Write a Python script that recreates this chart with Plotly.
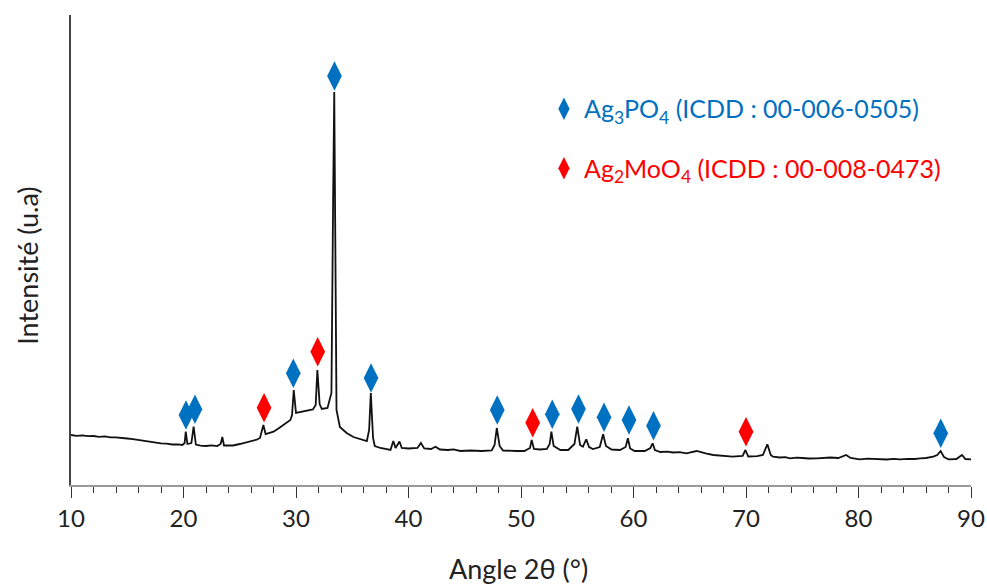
import plotly.graph_objects as go

# XRD pattern (2theta in degrees, intensity in arbitrary units)
two_theta = [10.0, 10.5, 11.0, 11.5, 12.0, 12.5, 13.0, 13.5, 14.0, 14.5, 15.0, 15.5, 16.0, 16.5, 17.0,
             17.5, 18.0, 18.5, 19.0, 19.5, 19.9, 20.1, 20.2, 20.35, 20.7, 20.9, 21.1, 21.5, 22.0, 22.5,
             23.0, 23.3, 23.45, 23.6, 24.0, 24.4, 25.0, 25.5, 26.0, 26.5, 26.8, 27.1, 27.3, 27.6, 28.0,
             28.5, 29.0, 29.5, 29.65, 29.8, 30.0, 30.5, 31.0, 31.5, 31.75, 31.9, 32.1, 32.3, 32.8, 33.0,
             33.15, 33.3, 33.4, 33.5, 33.6, 33.9, 34.5, 35.1, 35.7, 36.3, 36.5, 36.65, 36.85, 37.0, 37.5,
             38.0, 38.4, 38.65, 38.85, 39.2, 39.4, 40.0, 40.8, 41.1, 41.4, 42.0, 42.4, 42.8, 43.5, 44.0,
             44.6, 45.5, 46.5, 47.4, 47.65, 47.85, 48.1, 48.4, 49.0, 49.6, 50.3, 50.8, 50.95, 51.15, 51.7,
             52.3, 52.55, 52.7, 52.9, 53.5, 54.2, 54.75, 55.0, 55.25, 55.5, 55.8, 56.05, 56.4, 57.0, 57.3,
             57.55, 58.05, 58.8, 59.3, 59.5, 59.7, 60.1, 61.0, 61.5, 61.7, 61.9, 62.4, 63.0, 63.5, 64.1,
             64.7, 65.6, 66.0, 66.5, 67.1, 67.5, 68.0, 68.8, 69.7, 69.95, 70.2, 70.6, 71.0, 71.5, 71.9,
             72.2, 72.4, 73.0, 73.5, 73.9, 74.5, 75.0, 75.6, 76.3, 77.0, 77.5, 78.2, 78.9, 79.3, 80.1,
             80.8, 81.5, 82.0, 82.5, 83.1, 83.7, 84.4, 85.0, 85.5, 86.0, 86.65, 87.0, 87.3, 87.6, 88.0,
             88.7, 89.2, 89.5, 90.0]
intensity = [50.0, 49.2, 49.6, 48.8, 49.0, 48.2, 48.6, 47.6, 47.7, 46.8, 46.5, 45.9, 45.0, 44.6, 43.5,
             42.9, 41.7, 41.3, 40.5, 40.6, 40.0, 42.0, 53.3, 41.0, 42.0, 58.3, 40.5, 39.4, 39.0, 39.6,
             38.9, 41.0, 48.0, 39.5, 39.8, 39.5, 41.0, 42.2, 44.0, 45.3, 47.0, 60.0, 51.0, 52.0, 53.3,
             57.0, 61.0, 65.0, 70.0, 95.0, 72.0, 73.0, 74.0, 75.5, 80.0, 115.0, 81.0, 76.0, 77.0, 85.0,
             92.0, 285.0, 393.0, 235.0, 75.0, 58.0, 52.0, 48.0, 46.0, 44.0, 55.0, 92.0, 47.0, 39.0, 37.0,
             36.0, 35.0, 44.0, 37.0, 43.5, 37.0, 36.5, 37.0, 42.0, 36.5, 36.0, 38.3, 35.5, 35.0, 35.6,
             34.0, 34.5, 34.0, 34.5, 40.0, 57.0, 39.0, 34.5, 34.0, 34.0, 34.0, 37.0, 45.0, 36.0, 35.5,
             36.0, 41.0, 53.3, 39.0, 35.0, 35.0, 41.0, 58.3, 40.0, 38.3, 45.7, 38.0, 36.0, 38.0, 50.7,
             39.0, 35.5, 35.0, 38.0, 46.7, 36.5, 34.0, 34.0, 37.0, 41.7, 35.0, 33.0, 33.4, 32.5, 32.8,
             31.7, 34.0, 32.5, 31.4, 30.0, 29.6, 29.0, 28.3, 29.0, 35.0, 28.5, 28.3, 28.8, 30.0, 40.7,
             30.0, 28.3, 27.5, 27.9, 26.7, 27.3, 27.0, 26.5, 26.7, 27.2, 27.5, 27.0, 30.0, 27.0, 25.7,
             26.3, 26.0, 25.6, 25.5, 26.1, 25.7, 26.2, 26.0, 26.6, 27.0, 28.3, 30.0, 34.0, 28.0, 25.7,
             26.0, 30.0, 26.0, 25.7]

# Phase markers (peak position, marker height)
ag3po4_x = [20.22, 21.02, 29.76, 33.42, 36.67, 47.89, 52.78, 55.11, 57.38, 59.60, 61.78, 87.31]
ag3po4_y = [70.0, 75.7, 111.7, 409.0, 107.0, 75.0, 70.7, 76.0, 67.7, 65.0, 59.3, 51.7]
ag2moo4_x = [27.16, 31.93, 51.04, 70.0]
ag2moo4_y = [77.3, 133.3, 62.3, 53.3]

x_ticks = [10, 20, 30, 40, 50, 60, 70, 80, 90]

BLUE = "#0070C0"
RED = "#FF0000"
FONT = "Lato"

fig = go.Figure()
fig.add_trace(go.Scatter(x=two_theta, y=intensity, mode="lines",
                         line=dict(color="#111111", width=1.8), showlegend=False))
fig.add_trace(go.Scatter(x=ag3po4_x, y=ag3po4_y, mode="markers", legendgroup="a",
                         name=f'<span style="color:{BLUE}">Ag<sub>3</sub>PO<sub>4</sub> (ICDD : 00-006-0505)</span>',
                         marker=dict(symbol="diamond-tall", size=21, color=BLUE)))
fig.add_trace(go.Scatter(x=ag2moo4_x, y=ag2moo4_y, mode="markers", legendgroup="b",
                         name=f'<span style="color:{RED}">Ag<sub>2</sub>MoO<sub>4</sub> (ICDD : 00-008-0473)</span>',
                         marker=dict(symbol="diamond-tall", size=21, color=RED)))

fig.update_layout(
    width=987, height=585,
    margin=dict(l=71, r=16, t=15, b=100),
    paper_bgcolor="white", plot_bgcolor="white",
    font=dict(family=FONT, size=24, color="#222222"),
    legend=dict(x=0.5255, y=0.849, xanchor="left", yanchor="top",
                traceorder="grouped", tracegroupgap=24,
                font=dict(family=FONT, size=25), bgcolor="rgba(0,0,0,0)"),
    xaxis=dict(range=[10, 90], tickvals=x_ticks, ticktext=[str(v) for v in x_ticks],
               automargin=False,
               showgrid=False, zeroline=False, showline=True, linecolor="#9a9a9a", linewidth=2,
               ticks="outside", ticklen=11, tickwidth=1.2, tickcolor="#333333",
               tickfont=dict(family=FONT, size=24, color="#222222"),
               minor=dict(dtick=2, tick0=10, ticks="outside", ticklen=6, tickwidth=1.2,
                          tickcolor="#333333", showgrid=False)),
    yaxis=dict(range=[0, 470], automargin=False, showgrid=False, zeroline=False, showline=True,
               linecolor="#444444", linewidth=2, showticklabels=False, ticks=""),
    annotations=[
        dict(text="Angle 2θ (°)", xref="paper", yref="paper", x=0.497, y=-0.177,
             xanchor="center", yanchor="middle", showarrow=False,
             font=dict(family=FONT, size=27, color="#222222")),
        dict(text="Intensité (u.a)", xref="paper", yref="paper", x=-0.048, y=0.466,
             xanchor="center", yanchor="middle", textangle=-90, showarrow=False,
             font=dict(family=FONT, size=27, color="#222222")),
    ],
)

# Remove the default page margin so the 987x585 figure fills the window exactly.
fig.write_html("out.html", config={"displayModeBar": False},
               post_script="document.body.style.margin='0';document.body.style.overflow='hidden';")
